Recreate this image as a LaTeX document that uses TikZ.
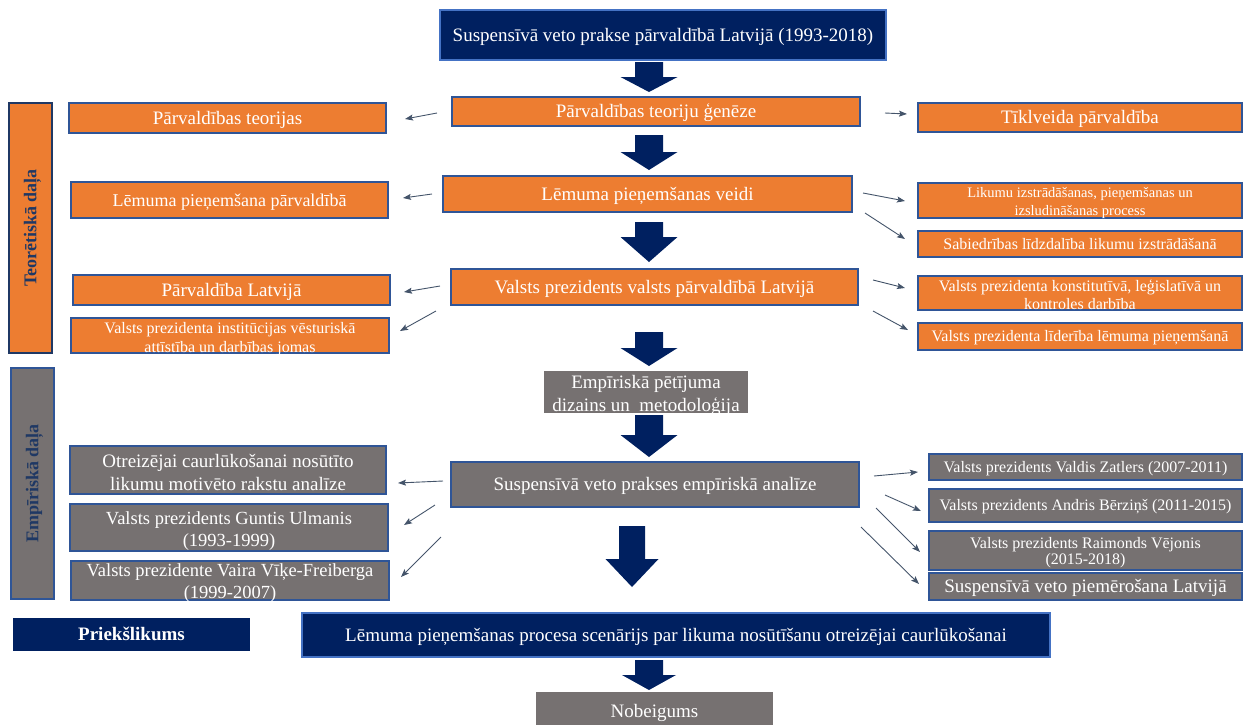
\documentclass[tikz,border=0pt]{standalone}
\usepackage{fontspec}
\setmainfont{Liberation Serif}
\usetikzlibrary{arrows.meta}

\definecolor{orangeC}{HTML}{ED7D31}
\definecolor{navyC}{HTML}{002060}
\definecolor{grayC}{HTML}{767171}
\definecolor{edgeB}{HTML}{2F5597}
\definecolor{edgeL}{HTML}{4472C4}
\definecolor{labelN}{HTML}{1F3864}
\definecolor{slateC}{HTML}{44546A}

\newcommand\fs[1]{\fontsize{#1}{#1}\selectfont}
% block arrow pointing down: centre x, top, head start, tip, shaft half width, head half width
\newcommand\downblock[6]{%
  \fill[navyC] (#1-#5,#2) -- (#1+#5,#2) -- (#1+#5,#3) -- (#1+#6,#3) -- (#1,#4)
    -- (#1-#6,#3) -- (#1-#5,#3) -- cycle;}

\begin{document}
\begin{tikzpicture}[x=1pt,y=-1pt,
  base/.style={rectangle, inner sep=0pt, align=center, text=white,
    font=\fontsize{19}{22}\selectfont, line width=1.2pt},
  one/.style={text height=13.4pt, text depth=0.9pt},
  onesm/.style={text height=11.5pt, text depth=0.9pt},
  % two-line captions, set over a box of fixed size
  txt/.style={inner sep=0pt, align=center, text=white},
  obox/.style={base, fill=orangeC, draw=edgeB},
  gbox/.style={base, fill=grayC, draw=edgeB},
  gplain/.style={base, fill=grayC},
  nbox/.style={base, fill=navyC, draw=edgeL},
  nplain/.style={base, fill=navyC},
  side/.style={rectangle, inner sep=0pt, rotate=90, text=labelN,
    font=\fontsize{18}{20}\selectfont\bfseries, text height=12.8pt, text depth=0.9pt},
  link/.style={draw=slateC, line width=0.9pt,
    -{Stealth[length=8pt,width=6pt,inset=1.5pt]}}]

\useasboundingbox (0,0) rectangle (1243,724);

% ---- central column ----
\node[nbox, one, minimum width=446pt, minimum height=50pt] (top) at (663,35)
  {Suspensīvā veto prakse pārvaldībā Latvijā (1993-2018)};
\node[obox, one, minimum width=408pt, minimum height=29pt] (gen) at (656,111.5)
  {Pārvaldības teoriju ģenēze};
\node[obox, one, minimum width=409pt, minimum height=36pt] (veidi) at (647.5,194)
  {Lēmuma pieņemšanas veidi};
\node[obox, one, minimum width=407pt, minimum height=36pt] (vp) at (654.5,287)
  {Valsts prezidents valsts pārvaldībā Latvijā};
\node[gplain, minimum width=204pt, minimum height=42pt] (emp) at (646,392) {};
\node[txt, font=\fontsize{19}{23}\selectfont, yshift=-3pt] (emp-t) at (emp)
  {Empīriskā pētījuma\\dizains un \ metodoloģija};
\node[gbox, one, minimum width=408pt, minimum height=45pt] (ana) at (655,484.5)
  {Suspensīvā veto prakses empīriskā analīze};
\node[nbox, one, minimum width=748pt, minimum height=44pt] (scen) at (676,635)
  {Lēmuma pieņemšanas procesa scenārijs par likuma nosūtīšanu otreizējai caurlūkošanai};
\node[nplain, one, minimum width=237pt, minimum height=33pt,
  font=\fontsize{19}{22}\selectfont\bfseries] (prie) at (131.5,634.5) {Priekšlikums};
\node[gplain, one, minimum width=237pt, minimum height=38pt] (nob) at (654.5,711)
  {Nobeigums};

% ---- block arrows between the central steps ----
\downblock{649}{62}{77}{92}{14}{28.5}
\downblock{649}{135}{152}{170}{14}{28.5}
\downblock{649}{222}{237}{262}{14}{28.5}
\downblock{649}{332}{348}{366}{14}{28.5}
\downblock{649}{415}{435}{457}{14}{28.5}
\downblock{632}{526}{559}{587}{13}{26.5}
\downblock{649}{660}{675}{690}{14}{27}

% ---- part labels ----
\node[side, fill=orangeC, draw=labelN, line width=2.2pt,
  minimum width=250pt, minimum height=43pt] (teo) at (30.5,228) {Teorētiskā daļa};
\node[side, fill=grayC, draw=edgeB, line width=1.2pt,
  minimum width=231pt, minimum height=43pt] (emd) at (32.5,483.5) {Empīriskā daļa};

% ---- left column ----
\node[obox, one, minimum width=317pt, minimum height=30pt] (pt) at (227.5,118)
  {Pārvaldības teorijas};
\node[obox, one, minimum width=317pt, minimum height=36pt, font=\fs{18}] (lpp) at (229.5,200)
  {Lēmuma pieņemšana pārvaldībā};
\node[obox, one, minimum width=317pt, minimum height=30pt] (pl) at (231.5,290)
  {Pārvaldība Latvijā};
\node[obox, minimum width=318pt, minimum height=35pt] (vpi) at (230,335.5) {};
\node[txt, font=\fontsize{16}{19}\selectfont, yshift=-4pt] (vpi-t) at (vpi)
  {Valsts prezidenta institūcijas vēsturiskā\\attīstība un darbības jomas};
\node[gbox, minimum width=316pt, minimum height=48pt] (otr) at (228,470) {};
\node[txt, font=\fontsize{19}{23}\selectfont, yshift=-2pt] (otr-t) at (otr)
  {Otreizējai caurlūkošanai nosūtīto\\likumu motivēto rakstu analīze};
\node[gbox, minimum width=318pt, minimum height=47pt] (gu) at (229,527.5) {};
\node[txt, font=\fontsize{18.5}{22.5}\selectfont, yshift=-3.5pt] (gu-t) at (gu)
  {Valsts prezidents Guntis Ulmanis\\(1993-1999)};
\node[gbox, minimum width=318pt, minimum height=39pt] (vai) at (230,580.5) {};
\node[txt, font=\fontsize{18.5}{22}\selectfont, yshift=-3pt] (vai-t) at (vai)
  {Valsts prezidente Vaira Vīķe-Freiberga\\(1999-2007)};

% ---- right column ----
\node[obox, one, minimum width=324pt, minimum height=29pt] (tik) at (1080,117.5)
  {Tīklveida pārvaldība};
\node[obox, minimum width=324pt, minimum height=35pt] (lik) at (1080,200.5) {};
\node[txt, font=\fontsize{14.5}{18}\selectfont, yshift=-2pt] (lik-t) at (lik)
  {Likumu izstrādāšanas, pieņemšanas un\\izsludināšanas process};
\node[obox, onesm, minimum width=324pt, minimum height=26pt, font=\fs{16}] (sab) at (1080,244)
  {Sabiedrības līdzdalība likumu izstrādāšanā};
\node[obox, minimum width=324pt, minimum height=34pt] (kon) at (1080,293) {};
\node[txt, font=\fontsize{16}{18}\selectfont, yshift=-2pt] (kon-t) at (kon)
  {Valsts prezidenta konstitutīvā, leģislatīvā un\\kontroles darbība};
\node[obox, onesm, minimum width=324pt, minimum height=27pt, font=\fs{16}] (lid) at (1080,336.5)
  {Valsts prezidenta līderība lēmuma pieņemšanā};
\node[gbox, onesm, minimum width=313pt, minimum height=26pt, font=\fs{16}] (zat) at (1085.5,467)
  {Valsts prezidents Valdis Zatlers (2007-2011)};
\node[gbox, onesm, minimum width=313pt, minimum height=33pt, font=\fs{16}] (ber) at (1085.5,505.5)
  {Valsts prezidents Andris Bērziņš (2011-2015)};
\node[gbox, minimum width=313pt, minimum height=39pt] (vej) at (1085.5,550.5) {};
\node[txt, font=\fontsize{16}{15.5}\selectfont, yshift=-2pt] (vej-t) at (vej)
  {Valsts prezidents Raimonds Vējonis\\(2015-2018)};
\node[gbox, one, minimum width=313pt, minimum height=27pt] (sva) at (1085.5,586.5)
  {Suspensīvā veto piemērošana Latvijā};

% ---- ends of the thin pointers ----
\coordinate (gen-l) at (437,113);   \coordinate (pt-r)  at (405,119);
\coordinate (gen-r) at (885,113);   \coordinate (tik-l) at (907,114);
\coordinate (vei-l) at (432,194);   \coordinate (lpp-r) at (403,198);
\coordinate (vei-r) at (863,193);   \coordinate (lik-l) at (905,201);
\coordinate (vei-d) at (865,213);   \coordinate (sab-l) at (905,239);
\coordinate (vp-l)  at (440,286);   \coordinate (pl-r)  at (404,292);
\coordinate (vp-d)  at (436,311);   \coordinate (vpi-r) at (400,331);
\coordinate (vp-r)  at (873,280);   \coordinate (kon-l) at (905,288);
\coordinate (vp-e)  at (873,311);   \coordinate (lid-l) at (908,330);
\coordinate (ana-l) at (443,481);   \coordinate (otr-r) at (398,483);
\coordinate (ana-m) at (435,505);   \coordinate (gu-r)  at (404,525);
\coordinate (ana-n) at (441,537);   \coordinate (vai-r) at (401,577);
\coordinate (ana-r) at (874,476);   \coordinate (zat-l) at (918,472);
\coordinate (ana-s) at (885,495);   \coordinate (ber-l) at (921,511);
\coordinate (ana-t) at (876,508);   \coordinate (vej-l) at (920,552);
\coordinate (ana-u) at (861,527);   \coordinate (sva-l) at (919,584);

\draw[link] (gen-l) -- (pt-r);
\draw[link] (gen-r) -- (tik-l);
\draw[link] (vei-l) -- (lpp-r);
\draw[link] (vei-r) -- (lik-l);
\draw[link] (vei-d) -- (sab-l);
\draw[link] (vp-l)  -- (pl-r);
\draw[link] (vp-d)  -- (vpi-r);
\draw[link] (vp-r)  -- (kon-l);
\draw[link] (vp-e)  -- (lid-l);
\draw[link] (ana-l) -- (otr-r);
\draw[link] (ana-m) -- (gu-r);
\draw[link] (ana-n) -- (vai-r);
\draw[link] (ana-r) -- (zat-l);
\draw[link] (ana-s) -- (ber-l);
\draw[link] (ana-t) -- (vej-l);
\draw[link] (ana-u) -- (sva-l);
\end{tikzpicture}
\end{document}
